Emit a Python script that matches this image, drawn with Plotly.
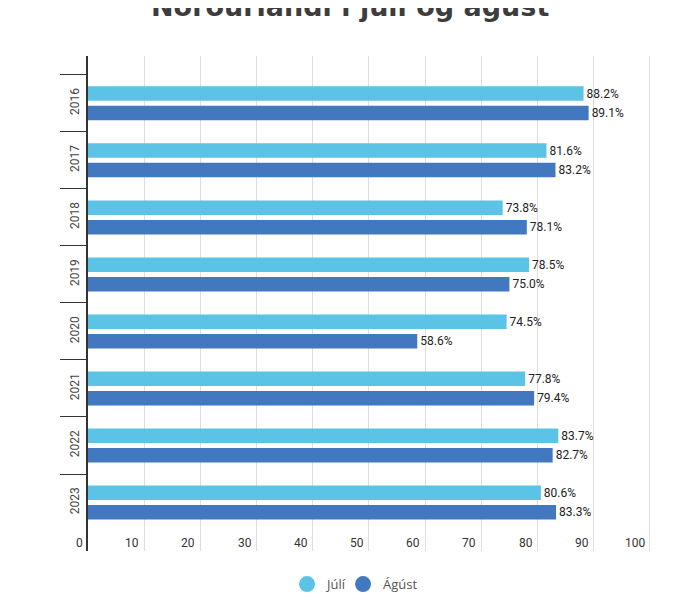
import plotly.graph_objects as go

years = ["2016", "2017", "2018", "2019", "2020", "2021", "2022", "2023"]
juli = [88.2, 81.6, 73.8, 78.5, 74.5, 77.8, 83.7, 80.6]
agust = [89.1, 83.2, 78.1, 75.0, 58.6, 79.4, 82.7, 83.3]
series_names = ["Júlí", "Ágúst"]
colors = ["#5BC3E6", "#4178C0"]
x_ticks = [0, 10, 20, 30, 40, 50, 60, 70, 80, 90, 100]
title_text = "Norðurlandi í júlí og ágúst"

tick_font = dict(family="Roboto, sans-serif", size=12, color="#333333")
legend_ids = ["legend", "legend2"]
legend_x = [0.3535, 0.453]

fig = go.Figure()
for name, vals, col in zip(series_names, [juli, agust], colors):
    fig.add_trace(go.Bar(
        y=years, x=vals, orientation="h", name=name,
        marker=dict(color=col, line=dict(width=0)),
        text=[f"{v:.1f}%" for v in vals], textposition="outside",
        textfont=dict(family="Roboto, sans-serif", size=12, color="#222222"),
        cliponaxis=False, showlegend=False,
    ))
for name, col, lid in zip(series_names, colors, legend_ids):
    fig.add_trace(go.Scatter(
        x=[None], y=[None], mode="markers", name=name, legend=lid,
        marker=dict(color=col, size=16, symbol="circle"),
    ))

annotations = [
    dict(text=str(t), x=t, xref="x", y=0, yref="paper", xanchor="right", yanchor="middle",
         xshift=-3, yshift=8, showarrow=False, font=tick_font)
    for t in x_ticks
]
annotations.append(dict(
    text=title_text, x=0.465, xref="paper", y=1, yref="paper", xanchor="center", yanchor="middle",
    yshift=50, showarrow=False,
    font=dict(family="DejaVu Sans", size=27, color="#3d3d3d", weight="bold"),
))

legend_style = dict(orientation="h", xanchor="left", y=-0.067, yanchor="middle",
                    bgcolor="rgba(0,0,0,0)",
                    font=dict(family="Open Sans", size=13, color="#555555"))

fig.update_layout(
    width=692, height=592,
    paper_bgcolor="white", plot_bgcolor="white",
    margin=dict(l=80, r=49, t=48, b=49, autoexpand=False),
    barmode="group", bargap=0.316, bargroupgap=0.256,
    annotations=annotations,
    legend=dict(x=legend_x[0], **legend_style),
    legend2=dict(x=legend_x[1], **legend_style),
    showlegend=True,
)
fig.update_xaxes(
    range=[0, 100.2], tickvals=x_ticks, showticklabels=False,
    showgrid=True, gridcolor="#dddddd", gridwidth=1, zeroline=False,
    showline=False, ticks="",
)
fig.update_yaxes(
    type="category", categoryorder="array", categoryarray=years,
    range=[7.85, -0.83], showgrid=False, zeroline=False,
    showline=True, linecolor="#333333", linewidth=2,
    ticks="outside", tickson="boundaries", ticklen=26, tickcolor="#333333", tickwidth=1,
    tickangle=-90, ticklabelstandoff=2,
    tickfont=dict(family="Roboto, sans-serif", size=12, color="#444444"),
)
fig.write_html("out.html")
